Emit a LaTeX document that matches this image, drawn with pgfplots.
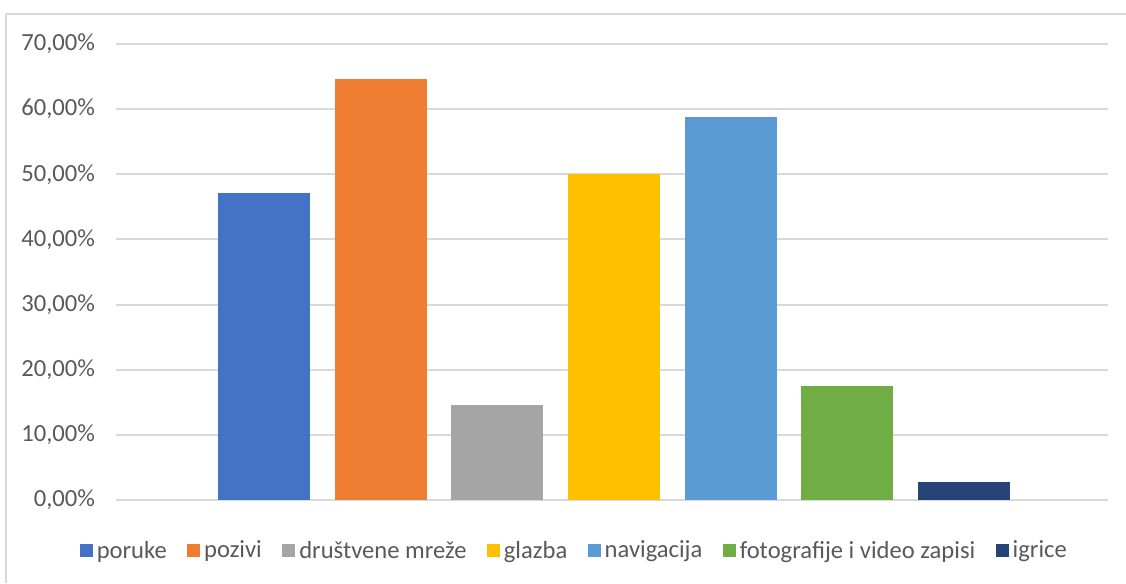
\documentclass[border=0pt]{standalone}
\usepackage{pgfplots}
\pgfplotsset{compat=1.18}
\usepackage{fontspec}
\setmainfont{Carlito}
\definecolor{c1}{HTML}{4472C4}
\definecolor{c2}{HTML}{ED7D31}
\definecolor{c3}{HTML}{A5A5A5}
\definecolor{c4}{HTML}{FFC000}
\definecolor{c5}{HTML}{5B9BD5}
\definecolor{c6}{HTML}{70AD47}
\definecolor{c7}{HTML}{264478}
\definecolor{gridgray}{HTML}{D9D9D9}
\definecolor{txtgray}{HTML}{595959}
\begin{document}
\begin{tikzpicture}
\begin{axis}[
  name=ax,
  scale only axis,
  width=496pt, height=228pt,
  xmin=-1.2686, xmax=7.234,
  ymin=0, ymax=70,
  axis line style={draw=none},
  major tick length=0pt,
  xtick=\empty,
  ytick={0,10,20,30,40,50,60,70},
  yticklabels={{0,00\%},{10,00\%},{20,00\%},{30,00\%},{40,00\%},{50,00\%},{60,00\%},{70,00\%}},
  yticklabel style={font=\fontsize{12.3}{14}\selectfont, text=txtgray, anchor=east, xshift=-7pt},
  ymajorgrids,
  grid style={gridgray, line width=1pt},
  legend style={draw=none, at={(0.463,-0.1118)}, anchor=center,
    font=\fontsize{12.3}{14}\selectfont, text=txtgray,
    legend columns=-1,
    /tikz/every even column/.append style={column sep=8.2pt},
    inner sep=0pt},
  legend image code/.code={\fill[#1] (0pt,-3.25pt) rectangle (6.5pt,3.25pt);},
]
\addplot[ybar, bar width=0.7886, fill=c1, draw=none] coordinates {(0,47.1)};
\addlegendentry{poruke}
\addplot[ybar, bar width=0.7886, fill=c2, draw=none] coordinates {(1,64.6)};
\addlegendentry{pozivi}
\addplot[ybar, bar width=0.7886, fill=c3, draw=none] coordinates {(2,14.6)};
\addlegendentry{društvene mreže}
\addplot[ybar, bar width=0.7886, fill=c4, draw=none] coordinates {(3,50.0)};
\addlegendentry{glazba}
\addplot[ybar, bar width=0.7886, fill=c5, draw=none] coordinates {(4,58.8)};
\addlegendentry{navigacija}
\addplot[ybar, bar width=0.7886, fill=c6, draw=none] coordinates {(5,17.5)};
\addlegendentry{fotografije i video zapisi}
\addplot[ybar, bar width=0.7886, fill=c7, draw=none] coordinates {(6,2.8)};
\addlegendentry{igrice}
\end{axis}
\draw[gridgray, line width=1pt] ([shift={(-54.75pt,14.75pt)}]ax.north west) -- ([shift={(9pt,14.75pt)}]ax.north east);
\draw[gridgray, line width=1pt] ([shift={(-54.75pt,14.75pt)}]ax.north west) -- ([shift={(-54.75pt,-41.5pt)}]ax.south west);
\pgfresetboundingbox
\path[use as bounding box] ([shift={(-58pt,-41.5pt)}]ax.south west) rectangle ([shift={(9pt,22pt)}]ax.north east);
\end{tikzpicture}
\end{document}
